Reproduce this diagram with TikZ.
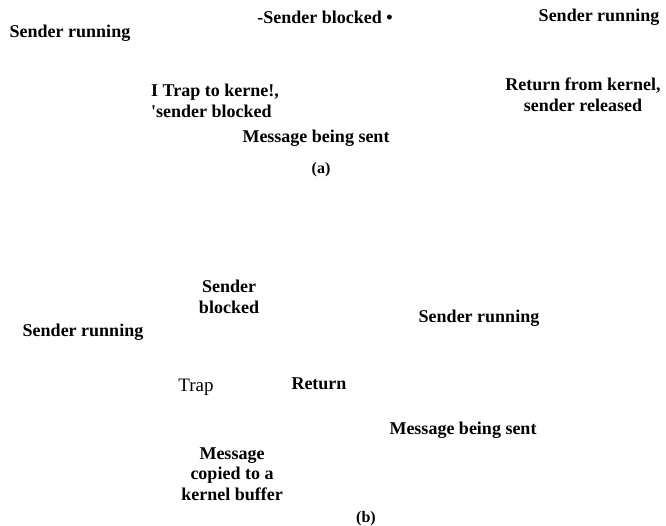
\documentclass[tikz,border=0pt]{standalone}
\usepackage{fontspec}
\setmainfont{Liberation Serif}
\usetikzlibrary{positioning}

\begin{document}
\begin{tikzpicture}[
  x=1pt, y=-1pt,
  lbl/.style={font=\bfseries\fontsize{18}{20.5}\selectfont, align=center, inner sep=0pt},
  plain/.style={font=\fontsize{19}{21}\selectfont, inner sep=0pt},
  subcap/.style={font=\bfseries\fontsize{16}{18}\selectfont, inner sep=0pt}
]
\useasboundingbox (0,0) rectangle (666,526);

% (a)
\node[lbl] (runA1) at (70,33) {Sender running};
\node[lbl] (blockedA) at (325,17) {-Sender blocked \textbullet};
\node[lbl] (runA2) at (599,17) {Sender running};
\node[lbl, align=left] (trapA) at (215,101) {I Trap to kerne!,\\\textquotesingle sender blocked};
\node[lbl] (returnA) at (583,95) {Return from kernel,\\sender released};
\node[lbl] (msgA) at (316,138) {Message being sent};
\node[subcap] (capA) at (321,170) {(a)};

% (b)
\node[lbl] (blockedB) at (229,297) {Sender\\blocked};
\node[lbl] (runB1) at (83,332) {Sender running};
\node[lbl] (runB2) at (479,318) {Sender running};
\node[plain] (trapB) at (196,387) {Trap};
\node[lbl] (returnB) at (319,384) {Return};
\node[lbl] (msgB) at (463,430) {Message being sent};
\node[lbl] (copyB) at (232,474) {Message\\copied to a\\kernel buffer};
\node[subcap] (capB) at (366,519) {(b)};

\end{tikzpicture}
\end{document}
